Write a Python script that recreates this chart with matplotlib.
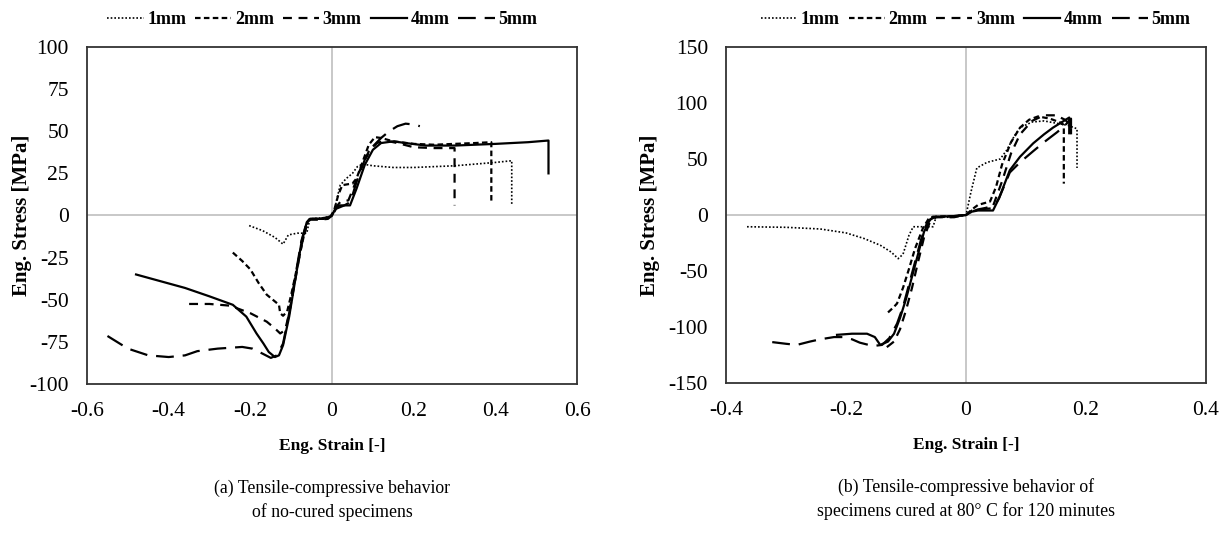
import numpy as np
import matplotlib
matplotlib.use('Agg')
import matplotlib.pyplot as plt

plt.rcParams['font.family'] = ['Liberation Serif', 'DejaVu Serif']

labels = ['1mm', '2mm', '3mm', '4mm', '5mm']

# (a) no-cured specimens
a1_x = [-0.203, -0.17, -0.14, -0.12, -0.107, -0.085, -0.062, -0.058, -0.054, -0.03, -0.005, 0.005, 0.012, 0.02, 0.035, 0.05, 0.062, 0.075, 0.1, 0.15, 0.2, 0.25, 0.3, 0.35, 0.4, 0.44, 0.44]
a1_y = [-6, -9, -13, -17, -11.5, -10.5, -10.5, -6, -2, -1.5, -1, 2, 10, 18, 22, 25, 29, 30.5, 29.5, 28.5, 28.5, 29, 29.5, 30.5, 31.5, 32.5, 6]
a2_x = [-0.243, -0.22, -0.2, -0.18, -0.16, -0.14, -0.13, -0.127, -0.12, -0.11, -0.1, -0.085, -0.07, -0.06, -0.052, -0.03, -0.005, 0.005, 0.015, 0.025, 0.05, 0.06, 0.075, 0.09, 0.105, 0.12, 0.15, 0.2, 0.25, 0.3, 0.35, 0.39, 0.39]
a2_y = [-22, -27, -32, -40, -47, -51, -53, -58, -59.5, -57, -47, -30, -13, -4, -2, -2, -1, 3, 12, 18, 19, 22, 32, 42, 46.5, 46, 44, 42.5, 42, 42.5, 43, 43.5, 7.5]
a3_x = [-0.35, -0.3, -0.25, -0.2, -0.16, -0.14, -0.127, -0.115, -0.105, -0.09, -0.075, -0.062, -0.055, -0.03, -0.01, 0.0, 0.01, 0.02, 0.04, 0.055, 0.07, 0.09, 0.11, 0.13, 0.16, 0.2, 0.25, 0.3, 0.3]
a3_y = [-52.5, -52.5, -53.5, -58, -63, -67, -70, -68, -58, -38, -18, -5, -2.5, -2.5, -2, 0, 5, 8, 9, 18, 28, 38, 43, 44.5, 43, 40.5, 40, 40, 6]
a4_x = [-0.48, -0.42, -0.36, -0.3, -0.243, -0.21, -0.185, -0.168, -0.155, -0.14, -0.13, -0.12, -0.105, -0.09, -0.075, -0.062, -0.055, -0.03, -0.01, 0, 0.01, 0.02, 0.044, 0.06, 0.08, 0.1, 0.12, 0.15, 0.18, 0.23, 0.3, 0.4, 0.48, 0.53, 0.53]
a4_y = [-35, -39, -43, -48, -53, -60, -70, -76, -81, -84, -83, -77, -60, -38, -16, -4, -2, -2, -1, 0, 5, 6, 6, 16, 30, 39, 43, 44, 43, 41.5, 41.5, 42.5, 43.5, 44.5, 25]
a5_x = [-0.55, -0.5, -0.45, -0.4, -0.36, -0.33, -0.28, -0.22, -0.195, -0.17, -0.15, -0.135, -0.12, -0.105, -0.09, -0.075, -0.062, -0.055, -0.02, 0, 0.01, 0.03, 0.045, 0.06, 0.08, 0.1, 0.12, 0.14, 0.16, 0.18, 0.2, 0.215]
a5_y = [-71.5, -79, -83, -84, -83, -80.5, -79, -78, -79, -82, -84.5, -83, -76, -58, -36, -15, -4, -2, -2, 0, 4, 6, 8, 20, 33, 41, 46, 50, 53, 54.5, 54, 53]

# (b) cured at 80 C for 120 minutes
b1_x = [-0.365, -0.3, -0.243, -0.2, -0.17, -0.143, -0.125, -0.113, -0.105, -0.095, -0.088, -0.055, -0.05, -0.02, 0, 0.008, 0.018, 0.035, 0.057, 0.068, 0.08, 0.09, 0.11, 0.13, 0.15, 0.17, 0.185, 0.185]
b1_y = [-10.5, -11, -12.5, -16, -21, -27, -33, -39, -35, -18, -10.5, -10.5, -2, -2, 0, 20, 42, 47, 50, 58, 70, 78, 83, 84, 82, 80, 77, 42]
b2_x = [-0.13, -0.12, -0.115, -0.105, -0.095, -0.085, -0.072, -0.062, -0.055, -0.02, 0, 0.01, 0.02, 0.04, 0.05, 0.06, 0.075, 0.09, 0.105, 0.12, 0.14, 0.16, 0.163, 0.163]
b2_y = [-87, -82, -79, -65, -48, -30, -12, -3, -1.5, -1, 0, 5, 9, 12, 25, 45, 65, 78, 85, 88, 86, 82, 80, 28]
b3_x = [-0.132, -0.12, -0.11, -0.1, -0.09, -0.08, -0.07, -0.06, -0.05, -0.02, 0, 0.01, 0.03, 0.045, 0.06, 0.075, 0.09, 0.11, 0.13, 0.15, 0.165, 0.175, 0.175]
b3_y = [-118, -113, -102, -85, -65, -42, -20, -6, -2, -2, 0, 4, 6, 8, 30, 55, 72, 84, 89, 89, 85, 80, 72]
b4_x = [-0.215, -0.19, -0.165, -0.152, -0.143, -0.13, -0.12, -0.11, -0.1, -0.09, -0.08, -0.07, -0.06, -0.05, -0.02, 0, 0.01, 0.02, 0.045, 0.055, 0.073, 0.09, 0.112, 0.13, 0.145, 0.16, 0.172, 0.172]
b4_y = [-107, -106, -106, -109, -116, -113, -106, -92, -75, -55, -35, -15, -4, -1.5, -1, 0, 3, 4, 4, 15, 40, 52, 64, 72, 78, 83, 87, 73]
b5_x = [-0.323, -0.3, -0.282, -0.26, -0.243, -0.22, -0.205, -0.19, -0.177, -0.155, -0.14, -0.128, -0.115, -0.105, -0.095, -0.085, -0.075, -0.065, -0.055, -0.02, 0, 0.01, 0.02, 0.045, 0.055, 0.073, 0.09, 0.112, 0.13, 0.152, 0.165, 0.175, 0.175]
b5_y = [-113.5, -115, -116, -113, -111, -109, -109, -111, -114, -117, -116, -110, -97, -82, -62, -42, -22, -7, -2, -1, 0, 3, 5, 6, 15, 38, 47, 57, 65, 74, 80, 86, 75]

styles = [
    dict(linestyle=(0, (1, 1.2)), linewidth=1.2),
    dict(linestyle=(0, (2.5, 1.5)), linewidth=1.6),
    dict(linestyle=(0, (4, 3)), linewidth=1.6),
    dict(linestyle='-', linewidth=1.6),
    dict(linestyle=(0, (8, 4)), linewidth=1.6),
]

fig = plt.figure(figsize=(12.26, 5.37), dpi=100)
ax1 = fig.add_axes([0.0710, 0.2849, 0.3997, 0.6276])
ax2 = fig.add_axes([0.5922, 0.2868, 0.3915, 0.6257])

panels = [
    (ax1, [(a1_x, a1_y), (a2_x, a2_y), (a3_x, a3_y), (a4_x, a4_y), (a5_x, a5_y)],
     (-0.6, 0.6), np.arange(-0.6, 0.61, 0.2), (-100, 100), np.arange(-100, 101, 25),
     '(a) Tensile-compressive behavior\nof no-cured specimens', -0.133, 0.48),
    (ax2, [(b1_x, b1_y), (b2_x, b2_y), (b3_x, b3_y), (b4_x, b4_y), (b5_x, b5_y)],
     (-0.4, 0.4), np.arange(-0.4, 0.41, 0.2), (-150, 150), np.arange(-150, 151, 50),
     '(b) Tensile-compressive behavior of\nspecimens cured at 80° C for 120 minutes', -0.158, 0.52),
]

for ax, series, xlim, xt, ylim, yt, caption, ylab_x, leg_x in panels:
    ax.axhline(0, color='#bfbfbf', lw=1.2, zorder=1)
    ax.axvline(0, color='#bfbfbf', lw=1.2, zorder=1)
    for (sx, sy), lab, st in zip(series, labels, styles):
        ax.plot(sx, sy, color='black', label=lab, zorder=3, **st)
    ax.set_xlim(*xlim)
    ax.set_ylim(*ylim)
    ax.set_xticks(xt)
    ax.set_yticks(yt)
    ax.set_xticklabels(['0' if abs(v) < 1e-9 else f'{v:.1f}' for v in xt])
    ax.set_yticklabels([f'{int(v)}' for v in yt])
    ax.tick_params(length=0, labelsize=15.5)
    ax.tick_params(axis='x', pad=13)
    ax.tick_params(axis='y', pad=13)
    for sp in ax.spines.values():
        sp.set_color('#333333')
        sp.set_linewidth(1.3)
    ax.set_xlabel('Eng. Strain [-]', fontsize=12.5, fontweight='bold', labelpad=12)
    ax.set_ylabel('Eng. Stress [MPa]', fontsize=15, fontweight='bold', va='center')
    ax.yaxis.set_label_coords(ylab_x, 0.5)
    ax.legend(loc='lower center', bbox_to_anchor=(leg_x, 1.03), ncol=5, frameon=False,
              prop=dict(weight='bold', size=13), handlelength=2.0, handletextpad=0.2,
              columnspacing=0.5, borderpad=0)
    ax.text(0.5, -0.283, caption, transform=ax.transAxes, ha='center', va='top',
            fontsize=12.8, linespacing=1.45)

fig.savefig('out.png', dpi=100)
